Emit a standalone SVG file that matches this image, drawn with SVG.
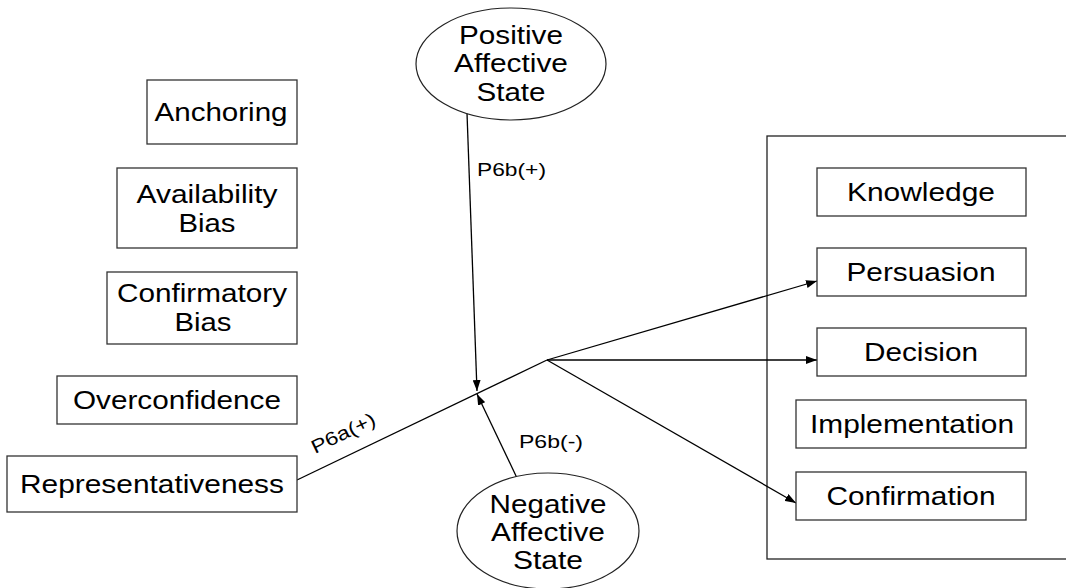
<svg xmlns="http://www.w3.org/2000/svg" width="1066" height="588" viewBox="0 0 1066 588">
<style>
  .box { fill: #fff; stroke: #333; stroke-width: 1.3; }
  .ell { fill: #fff; stroke: #222; stroke-width: 1.2; }
  .t { font-family: "Liberation Sans", Arial, sans-serif; font-size: 25px; fill: #000; text-anchor: middle; }
  .lbl { font-family: "Liberation Sans", Arial, sans-serif; font-size: 19px; fill: #000; }
  .con { fill: none; stroke: #000; stroke-width: 1.3; }
</style>
<defs>
  <marker id="arr" markerUnits="userSpaceOnUse" markerWidth="11" markerHeight="8" refX="11" refY="4" orient="auto">
    <path d="M0,0 L11,4 L0,8 z" fill="#000"/>
  </marker>
</defs>
<rect x="0" y="0" width="1066" height="588" fill="#fff"/>

<g id="stage-frame">
  <rect x="767" y="136" width="320" height="423" fill="none" stroke="#222" stroke-width="1.3"/>
</g>

<g id="connectors">
  <line class="con" x1="297" y1="480" x2="547" y2="360"/>
  <line class="con" x1="467" y1="113" x2="477" y2="391" marker-end="url(#arr)"/>
  <line class="con" x1="517" y1="478" x2="477" y2="394" marker-end="url(#arr)"/>
  <line class="con" x1="547" y1="360" x2="817" y2="281" marker-end="url(#arr)"/>
  <line class="con" x1="547" y1="360" x2="817" y2="360" marker-end="url(#arr)"/>
  <line class="con" x1="547" y1="360" x2="796" y2="503" marker-end="url(#arr)"/>
  <text class="lbl" x="477" y="176" textLength="69" lengthAdjust="spacingAndGlyphs">P6b(+)</text>
  <text class="lbl" x="519" y="448" textLength="64" lengthAdjust="spacingAndGlyphs">P6b(-)</text>
  <text class="lbl" text-anchor="middle" transform="translate(346 439) rotate(-25.6)" textLength="69" lengthAdjust="spacingAndGlyphs">P6a(+)</text>
</g>

<g id="anchoring">
  <rect class="box" x="147" y="80" width="150" height="64"/>
  <text class="t" x="221" y="121" textLength="133" lengthAdjust="spacingAndGlyphs">Anchoring</text>
</g>
<g id="availability-bias">
  <rect class="box" x="117" y="168" width="180" height="80"/>
  <text class="t" x="207" y="203" textLength="141" lengthAdjust="spacingAndGlyphs">Availability</text>
  <text class="t" x="207" y="232" textLength="57" lengthAdjust="spacingAndGlyphs">Bias</text>
</g>
<g id="confirmatory-bias">
  <rect class="box" x="107" y="272" width="190" height="72"/>
  <text class="t" x="202" y="302" textLength="170" lengthAdjust="spacingAndGlyphs">Confirmatory</text>
  <text class="t" x="203" y="331" textLength="57" lengthAdjust="spacingAndGlyphs">Bias</text>
</g>
<g id="overconfidence">
  <rect class="box" x="57" y="376" width="240" height="48"/>
  <text class="t" x="177" y="409" textLength="208" lengthAdjust="spacingAndGlyphs">Overconfidence</text>
</g>
<g id="representativeness">
  <rect class="box" x="7" y="456" width="290" height="56"/>
  <text class="t" x="152" y="493" textLength="264" lengthAdjust="spacingAndGlyphs">Representativeness</text>
</g>

<g id="positive-affective-state">
  <ellipse class="ell" cx="511" cy="64" rx="95" ry="56"/>
  <text class="t" x="511" y="44" textLength="104" lengthAdjust="spacingAndGlyphs">Positive</text>
  <text class="t" x="511" y="72" textLength="114" lengthAdjust="spacingAndGlyphs">Affective</text>
  <text class="t" x="511" y="101" textLength="69" lengthAdjust="spacingAndGlyphs">State</text>
</g>
<g id="negative-affective-state">
  <ellipse class="ell" cx="548" cy="531" rx="91" ry="58"/>
  <text class="t" x="548" y="513" textLength="117" lengthAdjust="spacingAndGlyphs">Negative</text>
  <text class="t" x="548" y="541" textLength="114" lengthAdjust="spacingAndGlyphs">Affective</text>
  <text class="t" x="548" y="569" textLength="70" lengthAdjust="spacingAndGlyphs">State</text>
</g>

<g id="knowledge">
  <rect class="box" x="817" y="168" width="209" height="48"/>
  <text class="t" x="921" y="201" textLength="148" lengthAdjust="spacingAndGlyphs">Knowledge</text>
</g>
<g id="persuasion">
  <rect class="box" x="817" y="248" width="209" height="48"/>
  <text class="t" x="921" y="281" textLength="149" lengthAdjust="spacingAndGlyphs">Persuasion</text>
</g>
<g id="decision">
  <rect class="box" x="817" y="328" width="209" height="48"/>
  <text class="t" x="921" y="361" textLength="114" lengthAdjust="spacingAndGlyphs">Decision</text>
</g>
<g id="implementation">
  <rect class="box" x="796" y="400" width="230" height="48"/>
  <text class="t" x="912" y="433" textLength="204" lengthAdjust="spacingAndGlyphs">Implementation</text>
</g>
<g id="confirmation">
  <rect class="box" x="796" y="472" width="230" height="48"/>
  <text class="t" x="911" y="505" textLength="169" lengthAdjust="spacingAndGlyphs">Confirmation</text>
</g>
</svg>
